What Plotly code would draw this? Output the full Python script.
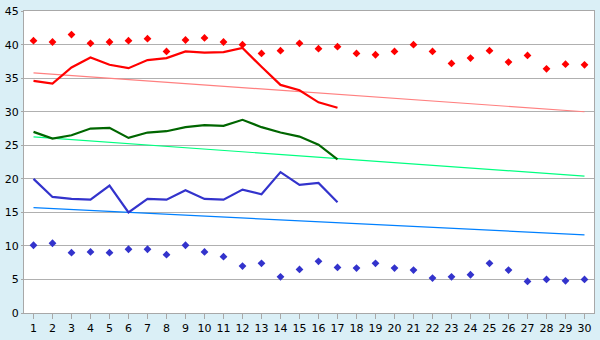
import plotly.graph_objects as go

days = list(range(1, 31))
cats = [str(d) for d in days]

red_max = [40.6, 40.4, 41.5, 40.2, 40.4, 40.6, 40.9, 39.0, 40.7, 41.0,
           40.4, 40.0, 38.7, 39.1, 40.2, 39.4, 39.7, 38.7, 38.5, 39.0,
           40.0, 39.0, 37.2, 38.0, 39.1, 37.4, 38.4, 36.4, 37.1, 37.0]
red_line = [34.6, 34.2, 36.6, 38.1, 37.0, 36.5, 37.7, 38.0, 39.0, 38.8,
            38.9, 39.5, 36.7, 34.0, 33.2, 31.4, 30.6]
green_line = [27.0, 26.0, 26.5, 27.5, 27.6, 26.1, 26.9, 27.1, 27.7, 28.0,
              27.9, 28.8, 27.7, 26.9, 26.3, 25.1, 22.9]
blue_line = [20.0, 17.3, 17.0, 16.9, 19.0, 15.0, 17.0, 16.9, 18.3, 17.0,
             16.9, 18.4, 17.7, 21.0, 19.1, 19.4, 16.5]
blue_min = [10.1, 10.4, 9.0, 9.1, 9.0, 9.5, 9.5, 8.7, 10.1, 9.1,
            8.4, 7.0, 7.4, 5.4, 6.5, 7.7, 6.8, 6.7, 7.4, 6.7,
            6.4, 5.2, 5.4, 5.7, 7.4, 6.4, 4.7, 5.0, 4.8, 5.0]
red_trend = [35.8, 30.0]
green_trend = [26.25, 20.4]
blue_trend = [15.7, 11.65]
y_ticks = [0, 5, 10, 15, 20, 25, 30, 35, 40, 45]
trend_x = [cats[0], cats[-1]]

fig = go.Figure()
fig.add_trace(go.Scatter(x=cats, y=red_max, mode="markers",
                         marker=dict(symbol="diamond", size=6, color="#FF0000")))
fig.add_trace(go.Scatter(x=cats, y=blue_min, mode="markers",
                         marker=dict(symbol="diamond", size=6, color="#3333CC")))
fig.add_trace(go.Scatter(x=trend_x, y=red_trend, mode="lines",
                         line=dict(color="#FF8080", width=1.2)))
fig.add_trace(go.Scatter(x=trend_x, y=green_trend, mode="lines",
                         line=dict(color="#00FF80", width=1.2)))
fig.add_trace(go.Scatter(x=trend_x, y=blue_trend, mode="lines",
                         line=dict(color="#0080FF", width=1.2)))
fig.add_trace(go.Scatter(x=cats[:len(red_line)], y=red_line, mode="lines",
                         line=dict(color="#FF0000", width=2.2)))
fig.add_trace(go.Scatter(x=cats[:len(green_line)], y=green_line, mode="lines",
                         line=dict(color="#006600", width=2.2)))
fig.add_trace(go.Scatter(x=cats[:len(blue_line)], y=blue_line, mode="lines",
                         line=dict(color="#3333CC", width=2.2)))

fig.update_layout(
    width=600, height=340,
    margin=dict(l=20, r=5, t=5, b=20),
    paper_bgcolor="#DAEFF6",
    plot_bgcolor="#FFFFFF",
    showlegend=False,
    font=dict(family="DejaVu Sans, Verdana, sans-serif", size=11, color="#000000"),
)
fig.update_xaxes(
    type="category", categoryorder="array", categoryarray=cats,
    range=[-0.5, 29.5], showgrid=False,
    showline=True, linecolor="#A8A8A8", linewidth=1, mirror=True,
    ticks="outside", ticklen=5, tickcolor="#A8A8A8", tickfont=dict(size=11),
    fixedrange=True,
)
fig.update_yaxes(
    range=[0, 45.02], tickmode="array", tickvals=y_ticks,
    showgrid=True, gridcolor="#B0B0B0", gridwidth=1,
    showline=True, linecolor="#A8A8A8", linewidth=1, mirror=True,
    ticks="outside", ticklen=2, tickcolor="#A8A8A8", zeroline=False,
    tickfont=dict(size=11), fixedrange=True, ticklabeloverflow="allow",
)
fig.write_html("out.html")
